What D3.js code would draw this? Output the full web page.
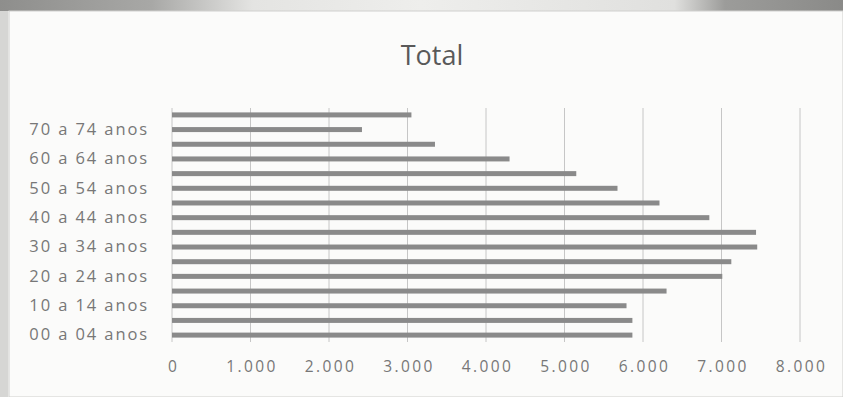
<!DOCTYPE html>
<html>
<head>
<meta charset="utf-8">
<script src="https://cdn.jsdelivr.net/npm/d3@7"></script>
<style>
  html, body { margin: 0; padding: 0; background: #f6f6f4; }
  svg { display: block; }
</style>
</head>
<body>
<svg id="chart" width="843" height="397"></svg>
<script>
// Age groups, youngest first (drawn bottom to top)
const categories = [
  "00 a 04 anos", "05 a 09 anos", "10 a 14 anos", "15 a 19 anos",
  "20 a 24 anos", "25 a 29 anos", "30 a 34 anos", "35 a 39 anos",
  "40 a 44 anos", "45 a 49 anos", "50 a 54 anos", "55 a 59 anos",
  "60 a 64 anos", "65 a 69 anos", "70 a 74 anos", "75 anos ou mais"
];
const totals = [
  5865, 5865, 5790, 6300,
  7010, 7125, 7455, 7440,
  6845, 6210, 5675, 5150,
  4300, 3350, 2420, 3050
];
const tickValues = [0, 1000, 2000, 3000, 4000, 5000, 6000, 7000, 8000];
const tickLabels = ["0", "1.000", "2.000", "3.000", "4.000", "5.000", "6.000", "7.000", "8.000"];
// only every other age group gets a label
const shownLabels = ["00 a 04 anos", "10 a 14 anos", "20 a 24 anos", "30 a 34 anos",
                     "40 a 44 anos", "50 a 54 anos", "60 a 64 anos", "70 a 74 anos"];

const svg = d3.select("#chart");
const W = 843, H = 397;
const margin = { left: 172, right: 43, top: 108, bottom: 55 };
const FONT = "'Open Sans', 'Liberation Sans', sans-serif";

// panel background and frame
const defs = svg.append("defs");
const grad = defs.append("linearGradient").attr("id", "topband").attr("x1", 0).attr("x2", 1);
grad.append("stop").attr("offset", 0).attr("stop-color", "#8e8e8c");
grad.append("stop").attr("offset", 0.18).attr("stop-color", "#a8a8a6");
grad.append("stop").attr("offset", 0.3).attr("stop-color", "#e4e4e2");
grad.append("stop").attr("offset", 0.5).attr("stop-color", "#eeeeec");
grad.append("stop").attr("offset", 0.8).attr("stop-color", "#e0e0de");
grad.append("stop").attr("offset", 0.86).attr("stop-color", "#9c9c9a");
grad.append("stop").attr("offset", 1).attr("stop-color", "#8a8a88");

svg.append("rect").attr("x", 0).attr("y", 0).attr("width", W).attr("height", H).attr("fill", "#f6f6f4");
svg.append("rect").attr("x", 0).attr("y", 0).attr("width", 8).attr("height", H).attr("fill", "#d6d6d4");
svg.append("rect").attr("x", 0).attr("y", 0).attr("width", W).attr("height", 11).attr("fill", "url(#topband)");
svg.append("rect").attr("x", 9).attr("y", 11).attr("width", W - 9).attr("height", H - 11)
  .attr("fill", "#fbfbfa").attr("stroke", "#cfcfcd").attr("stroke-width", 1);

const x = d3.scaleLinear().domain([0, 8000]).range([margin.left, W - margin.right]);
const y = d3.scaleBand().domain(categories.slice().reverse())
  .range([margin.top, H - margin.bottom]).paddingInner(0.66).paddingOuter(0.3);

// vertical gridlines
svg.append("g")
  .selectAll("line")
  .data(tickValues)
  .join("line")
  .attr("x1", d => x(d)).attr("x2", d => x(d))
  .attr("y1", margin.top).attr("y2", H - margin.bottom)
  .attr("stroke", "#c6c6c6").attr("stroke-width", 1);

// bars
svg.append("g")
  .selectAll("rect")
  .data(categories.map((c, i) => ({ c, v: totals[i] })))
  .join("rect")
  .attr("x", x(0))
  .attr("y", d => y(d.c))
  .attr("width", d => x(d.v) - x(0))
  .attr("height", y.bandwidth())
  .attr("fill", "#8a8a8a");

// category axis
const yAxis = d3.axisLeft(y).tickSize(0).tickPadding(23)
  .tickFormat(d => shownLabels.includes(d) ? d : "");
const gy = svg.append("g").attr("transform", `translate(${margin.left},0)`).call(yAxis);
gy.select(".domain").remove();
gy.selectAll("text")
  .attr("fill", "#777777")
  .style("font-family", FONT)
  .style("font-size", "16.5px")
  .style("letter-spacing", "1.9px");

// value axis
const xAxis = d3.axisBottom(x).tickValues(tickValues).tickSize(0).tickPadding(19)
  .tickFormat((d, i) => tickLabels[i]);
const gx = svg.append("g").attr("transform", `translate(0,${H - margin.bottom})`).call(xAxis);
gx.select(".domain").remove();
gx.selectAll("text")
  .attr("fill", "#777777")
  .attr("dx", "1px")
  .style("font-family", FONT)
  .style("font-size", "15.5px")
  .style("letter-spacing", "2.4px");

// title
svg.append("text")
  .attr("x", 432).attr("y", 65)
  .attr("text-anchor", "middle")
  .attr("fill", "#595959")
  .style("font-family", FONT)
  .style("font-size", "27px")
  .text("Total");
</script>
</body>
</html>
